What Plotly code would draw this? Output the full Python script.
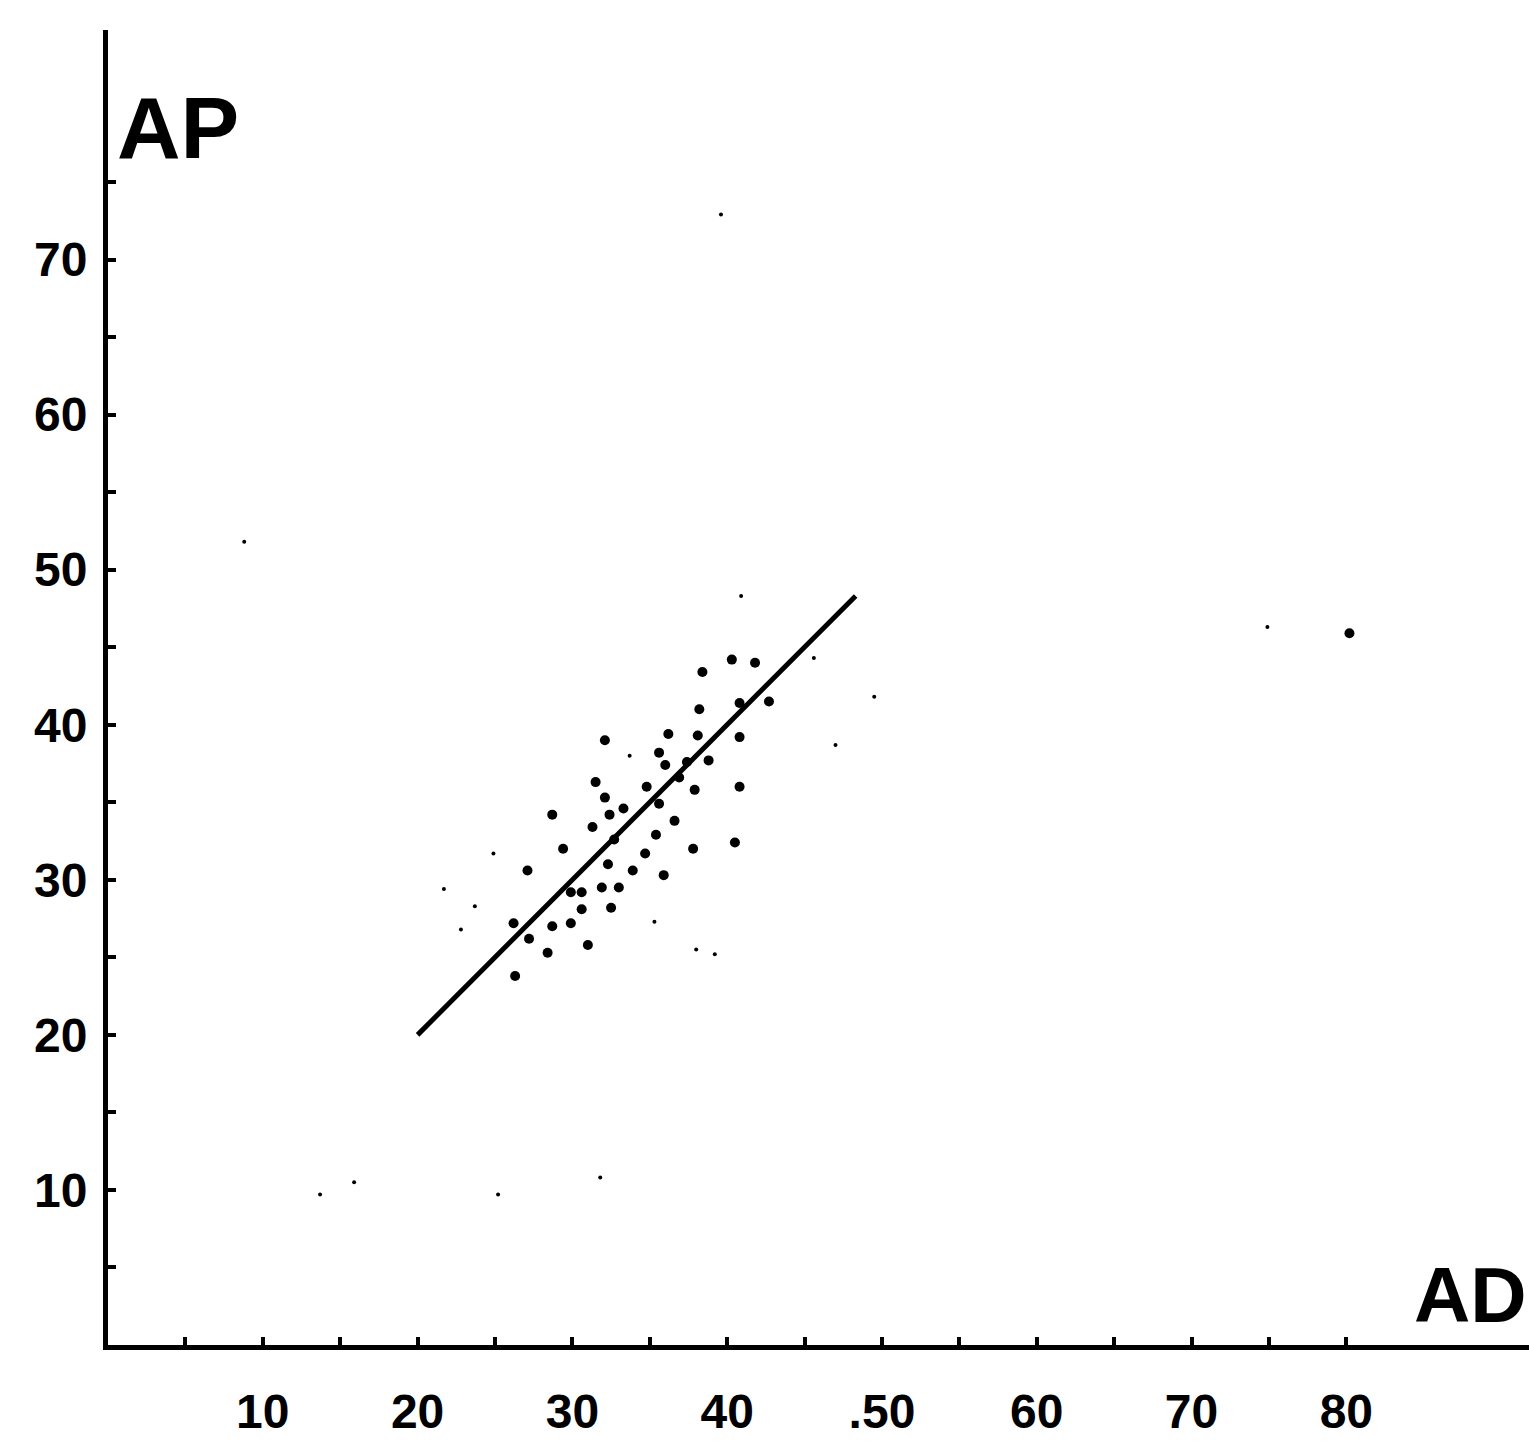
import plotly.graph_objects as go

# Main data points (AD, AP)
ad_main = [40.3, 41.8, 38.4, 42.7, 40.8, 38.2, 36.2, 38.1, 40.8, 32.1, 35.6, 36.0, 37.4, 38.8,
           36.9, 40.8, 37.9, 31.5, 32.1, 34.8, 33.3, 35.6, 32.4, 28.7, 36.6, 31.3, 35.4, 32.7,
           29.4, 34.7, 37.8, 40.5, 32.3, 33.9, 35.9, 27.1, 29.9, 30.6, 31.9, 33.0, 30.6, 32.5,
           26.2, 28.7, 29.9, 27.2, 31.0, 28.4, 26.3, 80.2]
ap_main = [44.2, 44.0, 43.4, 41.5, 41.4, 41.0, 39.4, 39.3, 39.2, 39.0, 38.2, 37.4, 37.6, 37.7,
           36.6, 36.0, 35.8, 36.3, 35.3, 36.0, 34.6, 34.9, 34.2, 34.2, 33.8, 33.4, 32.9, 32.6,
           32.0, 31.7, 32.0, 32.4, 31.0, 30.6, 30.3, 30.6, 29.2, 29.2, 29.5, 29.5, 28.1, 28.2,
           27.2, 27.0, 27.2, 26.2, 25.8, 25.3, 23.8, 45.9]

# Small specks
ad_small = [45.6, 49.5, 33.7, 24.9, 23.7, 21.7, 22.8, 35.3, 38.0, 47.0, 40.9, 74.9, 8.8,
            39.6, 13.7, 15.9, 25.2, 31.8, 39.2]
ap_small = [44.3, 41.8, 38.0, 31.7, 28.3, 29.4, 26.8, 27.3, 25.5, 38.7, 48.3, 46.3, 51.8,
            72.9, 9.7, 10.5, 9.7, 10.8, 25.2]

# Regression line endpoints
line_ad = [20.0, 48.3]
line_ap = [20.0, 48.3]

tick_vals = [5, 10, 15, 20, 25, 30, 35, 40, 45, 50, 55, 60, 65, 70, 75, 80]
x_tick_text = ['', '10', '', '20', '', '30', '', '40', '', '.50', '', '60', '', '70', '', '80']
y_tick_vals = [5, 10, 15, 20, 25, 30, 35, 40, 45, 50, 55, 60, 65, 70, 75]
y_tick_text = ['', '10', '', '20', '', '30', '', '40', '', '50', '', '60', '', '70', '']

font_family = "Liberation Sans, Arial, sans-serif"

fig = go.Figure()
fig.add_trace(go.Scatter(x=line_ad, y=line_ap, mode='lines',
                         line=dict(color='black', width=5), showlegend=False,
                         hoverinfo='skip'))
fig.add_trace(go.Scatter(x=ad_main, y=ap_main, mode='markers',
                         marker=dict(color='black', size=10), showlegend=False))
fig.add_trace(go.Scatter(x=ad_small, y=ap_small, mode='markers',
                         marker=dict(color='black', size=4), showlegend=False))

fig.update_layout(
    width=1529, height=1447,
    margin=dict(l=108, r=0, t=30, b=102, autoexpand=False),
    paper_bgcolor='white', plot_bgcolor='white',
    font=dict(family=font_family, color='black'),
    xaxis=dict(range=[0, 91.8], showgrid=False, zeroline=False,
               showline=True, linecolor='black', linewidth=5,
               tickmode='array', tickvals=tick_vals, ticktext=x_tick_text,
               ticks='inside', ticklen=8, tickwidth=4, tickcolor='black',
               ticklabelstandoff=20, automargin=False,
               tickfont=dict(size=48, family=font_family, weight='bold')),
    yaxis=dict(range=[0, 84.8], showgrid=False, zeroline=False,
               showline=True, linecolor='black', linewidth=5,
               tickmode='array', tickvals=y_tick_vals, ticktext=y_tick_text,
               ticks='inside', ticklen=8, tickwidth=4, tickcolor='black',
               ticklabelstandoff=6, automargin=False,
               tickfont=dict(size=48, family=font_family, weight='bold')),
    annotations=[
        dict(text='<b>AP</b>', xref='paper', yref='paper', x=0.005, y=0.965,
             xanchor='left', yanchor='top', showarrow=False,
             font=dict(size=88, family=font_family, color='black')),
        dict(text='<b>AD</b>', xref='paper', yref='paper', x=1.0, y=0.003,
             xanchor='right', yanchor='bottom', showarrow=False,
             font=dict(size=78, family=font_family, color='black')),
    ],
)

fig.write_html("out.html",
               config={'displayModeBar': False},
               post_script="document.body.style.margin='0';document.body.style.overflow='hidden';")
